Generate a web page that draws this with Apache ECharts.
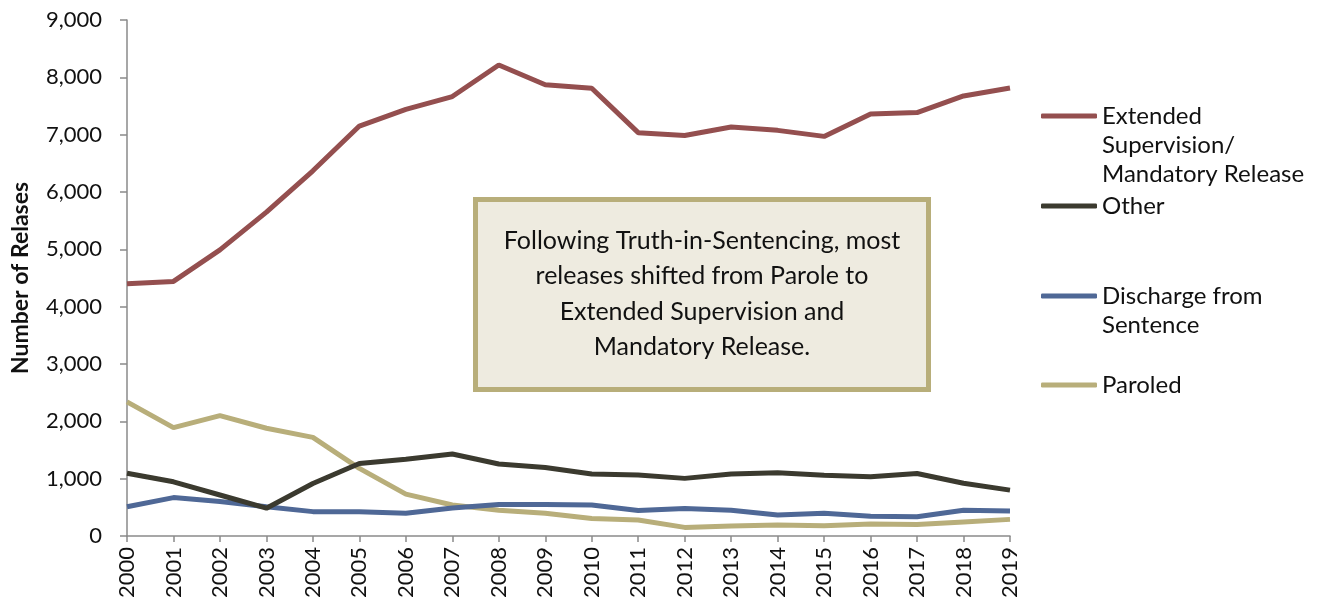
<!DOCTYPE html>
<html><head><meta charset="utf-8">
<script src="https://cdn.jsdelivr.net/npm/echarts@6/dist/echarts.min.js"></script>
<style>html,body{margin:0;padding:0;background:#fff}#c{width:1320px;height:611px}</style>
</head><body><div id="c"></div>
<script>
const years = ['2000','2001','2002','2003','2004','2005','2006','2007','2008','2009','2010','2011','2012','2013','2014','2015','2016','2017','2018','2019'];
const extended = [4400,4440,4990,5650,6370,7150,7440,7665,8215,7870,7810,7035,6985,7135,7075,6970,7360,7385,7675,7815];
const other = [1095,945,715,485,915,1265,1340,1430,1255,1195,1080,1065,1005,1080,1105,1060,1035,1090,920,800];
const discharge = [510,670,600,510,425,425,395,490,550,550,540,445,480,450,365,395,345,335,450,435];
const paroled = [2340,1890,2100,1880,1720,1180,730,540,450,395,305,280,150,175,190,180,210,200,245,290];
const names = ['Extended\nSupervision/\nMandatory Release','Other','Discharge from\nSentence','Paroled'];
const colors = ['#944f4f','#3b3a2f','#4f6896','#b8ae7a'];
const noteText = 'Following Truth-in-Sentencing, most\nreleases shifted from Parole to\nExtended Supervision and\nMandatory Release.';
const FONT = 'Lato';
const chart = echarts.init(document.getElementById('c'));
const seriesData = [extended, other, discharge, paroled];
const LH = 29;
const iconY = [116, 206, 296, 385];
chart.setOption({
  animation:false,
  textStyle:{fontFamily:FONT},
  grid:{left:127,right:310,top:20,bottom:75},
  xAxis:{type:'category',data:years,boundaryGap:false,
    axisLine:{lineStyle:{color:'#8a8a8a',width:1.5}},
    axisTick:{show:true,length:6,lineStyle:{color:'#8a8a8a',width:1.5}},
    axisLabel:{rotate:90,fontSize:22,color:'#111',margin:11,fontFamily:FONT}},
  yAxis:{type:'value',min:0,max:9000,interval:1000,
    name:'Number of Relases',nameLocation:'middle',nameGap:95,
    nameTextStyle:{fontSize:23,fontWeight:'bold',color:'#111',fontFamily:FONT},
    axisLine:{show:true,lineStyle:{color:'#8a8a8a',width:1.5}},
    axisTick:{show:true,length:7,lineStyle:{color:'#8a8a8a',width:1.5}},
    splitLine:{show:false},
    axisLabel:{fontSize:22,color:'#111',margin:25,fontFamily:FONT,
      formatter:v=>v.toLocaleString('en-US')}},
  legend: names.map((n,i)=>{
    const lines = n.split('\n').length;
    const pad = lines - 1;
    const total = lines + pad;
    return {
      data:[n],left:1036,top:iconY[i]-5-total*LH/2,itemWidth:56,itemHeight:5,itemGap:0,
      icon:'roundRect',
      formatter:name=>'\n'.repeat(pad)+name,
      textStyle:{fontSize:24,color:'#111',lineHeight:LH,fontFamily:FONT}
    };
  }),
  series: names.map((n,i)=>({
    name:n,type:'line',data:seriesData[i],showSymbol:false,symbol:'none',
    lineStyle:{width:5,color:colors[i]},itemStyle:{color:colors[i]},z:10-i
  })),
  graphic:[{type:'group',left:473,top:197,z:100,children:[
    {type:'rect',shape:{x:2.5,y:2.5,width:453,height:190},
     style:{fill:'#eeebe0',stroke:'#b8ae7a',lineWidth:5}},
    {type:'text',x:229,y:97,style:{text:noteText,fontSize:25,lineHeight:35.5,fill:'#111',
      align:'center',verticalAlign:'middle',fontFamily:FONT}}
  ]}]
});
</script></body></html>
